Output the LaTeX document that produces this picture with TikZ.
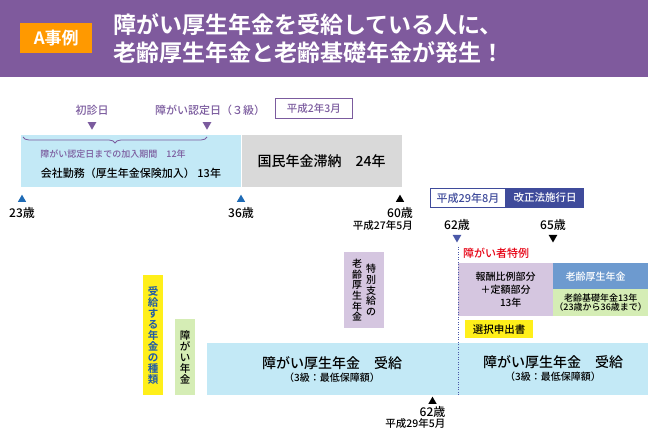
\documentclass[tikz,border=0pt]{standalone}
\usepackage{fontspec}
\setmainfont{Noto Sans CJK JP}[UprightFont={* Medium}, BoldFont={* Bold}]
\usepackage{tikz}
\usetikzlibrary{
	shapes.geometric,
	positioning,
	decorations.pathreplacing
}
\definecolor{headpurple}{HTML}{7F5A9D}
\definecolor{caseorange}{HTML}{FF9900}
\definecolor{paleblue}{HTML}{C3E9F6}
\definecolor{palegray}{HTML}{D9D9D9}
\definecolor{textpurple}{HTML}{7B5B9E}
\definecolor{lavender}{HTML}{D5C6E0}
\definecolor{steelblue}{HTML}{6D9ACF}
\definecolor{palegreen}{HTML}{D5EDB5}
\definecolor{markyellow}{HTML}{FFEF1A}
\definecolor{lawblue}{HTML}{3F4B9B}
\definecolor{markblue}{HTML}{4A58A8}
\definecolor{specialred}{HTML}{E60012}
\definecolor{ageblue}{HTML}{1F6BB5}
\definecolor{kindblue}{HTML}{1F5BA8}
\newcommand{\fsz}[1]{\fontsize{#1}{#1}\selectfont}

\begin{document}
\begin{tikzpicture}[
    x=1pt, y=-1pt,
    panel/.style={rectangle, inner sep=0pt, anchor=north west, align=center},
    tag/.style={inner sep=0pt, font=\fsz{11}},
    upmark/.style={regular polygon, regular polygon sides=3, inner sep=0pt, minimum size=9.5pt, anchor=south},
    downmark/.style={regular polygon, regular polygon sides=3, shape border rotate=180, inner sep=0pt, minimum size=10pt, anchor=north},
    column/.style={inner sep=0pt, align=center, font=\fontsize{10}{10.7}\selectfont}
]
\useasboundingbox (0,0) rectangle (648,435);

% header
\node[panel, fill=headpurple, minimum width=648pt, minimum height=77pt] (head) at (0,0) {};
\node[panel, fill=caseorange, minimum width=72pt, minimum height=30pt, text=white, font=\fsz{17}\bfseries] (case) at (20,23) {A事例};
\node[anchor=west, inner sep=0pt, align=left, text=white, font=\fontsize{23}{28}\selectfont\bfseries] (title) at (113,39) {障がい厚生年金を受給している人に、\\老齢厚生年金と老齢基礎年金が発生！};

% first period
\node[tag, text=textpurple] (firstvisit) at (92,110) {初診日};
\node[downmark, fill=textpurple] (firstmark) at (92,122) {};
\node[tag, text=textpurple] (grading) at (210,110) {障がい認定日（３級）};
\node[downmark, fill=textpurple] (grademark) at (207,122) {};
\node[panel, draw=textpurple, line width=0.8pt, text=textpurple, minimum width=77pt, minimum height=20pt, font=\fsz{10.5}] (h2) at (275,98) {平成2年3月};
\node[panel, fill=paleblue, minimum width=220pt, minimum height=52pt] (work) at (21,135) {};
\node[panel, fill=palegray, minimum width=160pt, minimum height=52pt, font=\fsz{14}, right=0pt of work] (arrears) {国民年金滞納　24年};
\coordinate (bracel) at (23,137);
\coordinate (bracer) at (207,137);
\draw[textpurple, line width=0.8pt, decorate, decoration={brace, mirror, amplitude=6pt}] (bracel) -- (bracer);
\node[tag, text=textpurple, font=\fsz{9}] (period) at (113,154) {障がい認定日までの加入期間　12年};
\node[tag] (worktext) at (131,173) {会社勤務（厚生年金保険加入） 13年};

% ages
\node[upmark, fill=ageblue] (m23) at (22,202) {};
\node[tag, font=\fsz{12}, below=5pt of m23] (a23) {23歳};
\node[upmark, fill=ageblue] (m36) at (241,202) {};
\node[tag, font=\fsz{12}, below=5pt of m36] (a36) {36歳};
\node[upmark, fill=black] (m60) at (400,202) {};
\node[tag, font=\fsz{12}, below=5pt of m60] (a60) {60歳};
\node[tag, font=\fsz{10.5}, below=2pt of a60.south east, anchor=north east] (d60) {平成27年5月};

% law change
\node[panel, draw=lawblue, line width=0.8pt, fill=white, text=lawblue, minimum width=75pt, minimum height=19pt, font=\fsz{11}] (h29) at (430,188) {平成29年8月};
\node[panel, fill=lawblue, text=white, minimum width=78pt, minimum height=19.8pt, font=\fsz{10.5}, right=0pt of h29] (lawday) {改正法施行日};
\node[tag, font=\fsz{12}] (a62) at (457,225) {62歳};
\node[downmark, fill=markblue, below=4pt of a62] (m62) {};
\node[tag, font=\fsz{12}] (a65) at (553,225) {65歳};
\node[downmark, fill=black, below=4pt of a65] (m65) {};
\node[tag, anchor=west, text=specialred] (special) at (463,253) {障がい者特例};
\node[panel, fill=lavender, minimum width=95pt, minimum height=53pt, font=\fontsize{10}{13}\selectfont] (fixedpart) at (458,263) {報酬比例部分\\＋定額部分\\\quad 13年};
\node[panel, fill=steelblue, text=white, minimum width=95pt, minimum height=26pt, font=\fsz{10}] (oldage) at (553,263) {老齢厚生年金\hspace*{10pt}};
\node[panel, fill=palegreen, minimum width=95pt, minimum height=27pt, font=\fontsize{9}{9.5}\selectfont] (basic) at (553,289) {老齢基礎年金13年\\（23歳から36歳まで）};
\node[panel, fill=markyellow, minimum width=68pt, minimum height=18pt, font=\fsz{10.5}] (choice) at (465,320) {選択申出書};

% kinds of pension
\node[panel, fill=markyellow, minimum width=20pt, minimum height=120pt, text=kindblue, font=\fontsize{10.5}{11}\selectfont\bfseries] (kinds) at (143,275) {受\\給\\す\\る\\年\\金\\の\\種\\類};
\node[panel, fill=palegreen, minimum width=20pt, minimum height=76pt, font=\fontsize{10.5}{11}\selectfont] (disab) at (175,319) {障\\が\\い\\年\\金};
\node[panel, fill=lavender, minimum width=40pt, minimum height=76pt] (tokubetsu) at (344,252) {};
\node[column] (tokcol) at ([xshift=7pt]tokubetsu.center) {特\\別\\支\\給\\の};
\node[column] (oldcol) at ([xshift=-7pt]tokubetsu.center) {老\\齢\\厚\\生\\年\\金};
\node[panel, fill=paleblue, minimum width=441pt, minimum height=52pt] (benefit) at (207,343) {};
\node[tag, font=\fsz{14}] (benl) at (332,363) {障がい厚生年金　受給};
\node[tag, font=\fsz{10}, below=3pt of benl] (benlsub) {（3級：最低保障額）};
\node[tag, font=\fsz{14}] (benr) at (553,362) {障がい厚生年金　受給};
\node[tag, font=\fsz{10}, below=3pt of benr] (benrsub) {（3級：最低保障額）};
\node[upmark, fill=black] (m62b) at (432.5,404) {};
\node[tag, font=\fsz{12}, below=2pt of m62b] (a62b) {62歳};
\node[tag, font=\fsz{10.5}, below=1pt of a62b.south east, anchor=north east] (d62b) {平成29年5月};

\coordinate (lawtop) at (458,247);
\coordinate (lawbot) at (458,395);
\draw[markblue, line width=0.7pt, dash pattern=on 1pt off 1.5pt] (lawtop) -- (lawbot);
\end{tikzpicture}
\end{document}
